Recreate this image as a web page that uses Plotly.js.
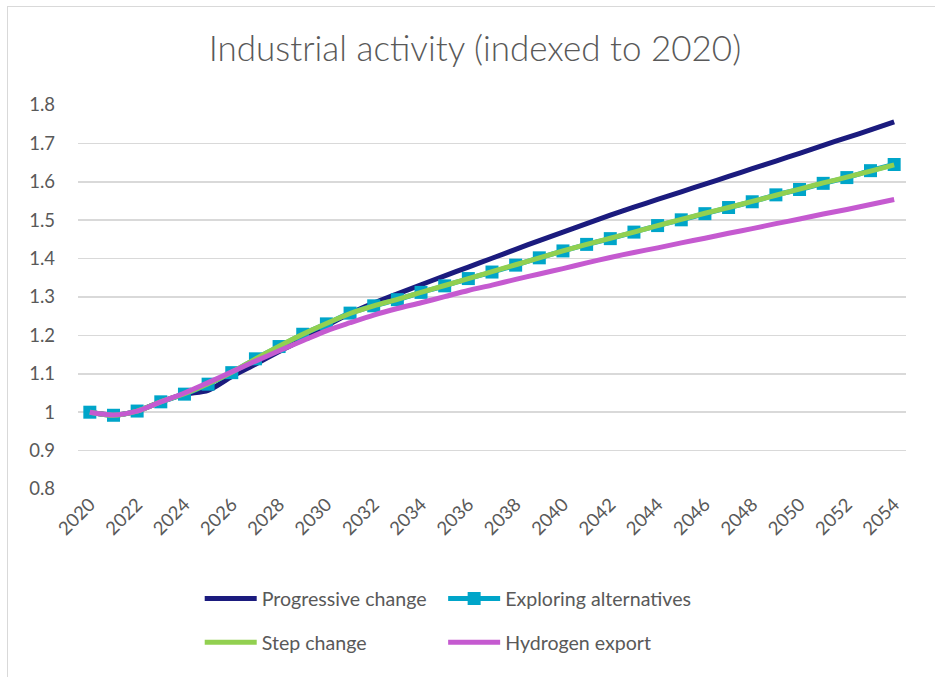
<!DOCTYPE html>
<html>
<head>
<meta charset="utf-8">
<script src="https://cdn.plot.ly/plotly-3.0.1.min.js"></script>
<style>
  html, body { margin: 0; padding: 0; background: #ffffff; }
  #wrap { position: relative; width: 935px; height: 677px; }
  #chart { position: absolute; left: 0; top: 0; width: 935px; height: 677px; }
  #frame { position: absolute; left: 7px; top: 6px; right: 0; bottom: 0;
           border-left: 1px solid #d9d9d9; border-top: 1px solid #d9d9d9; pointer-events: none; }
</style>
</head>
<body>
<div id="wrap">
  <div id="chart"></div>
  <div id="frame"></div>
</div>
<script>
// Years 2020-2054
const years = [];
for (let y = 2020; y <= 2054; y++) years.push(y);

// Industrial activity index (2020 = 1) by scenario
const progressiveChange = [
  1.000, 0.993, 1.003, 1.027, 1.047, 1.057, 1.093, 1.125, 1.158, 1.190,
  1.225, 1.257, 1.284, 1.308, 1.332, 1.355, 1.378, 1.401, 1.424, 1.447,
  1.469, 1.491, 1.513, 1.534, 1.554, 1.574, 1.594, 1.614, 1.634, 1.654,
  1.674, 1.695, 1.715, 1.735, 1.756
];
const exploringAlternatives = [
  1.000, 0.992, 1.003, 1.027, 1.047, 1.073, 1.103, 1.139, 1.171, 1.203,
  1.230, 1.258, 1.277, 1.293, 1.312, 1.329, 1.348, 1.365, 1.383, 1.402,
  1.420, 1.437, 1.452, 1.469, 1.486, 1.501, 1.517, 1.533, 1.548, 1.566,
  1.580, 1.596, 1.611, 1.629, 1.645
];
const stepChange = [
  1.000, 0.992, 1.003, 1.027, 1.048, 1.074, 1.104, 1.139, 1.172, 1.203,
  1.231, 1.257, 1.277, 1.294, 1.312, 1.330, 1.348, 1.366, 1.384, 1.402,
  1.420, 1.437, 1.453, 1.469, 1.486, 1.502, 1.518, 1.533, 1.549, 1.565,
  1.581, 1.597, 1.612, 1.628, 1.644
];
const hydrogenExport = [
  1.000, 0.993, 1.003, 1.027, 1.050, 1.077, 1.105, 1.133, 1.160, 1.186,
  1.212, 1.233, 1.253, 1.270, 1.285, 1.301, 1.317, 1.331, 1.346, 1.360,
  1.374, 1.389, 1.403, 1.416, 1.428, 1.441, 1.453, 1.466, 1.478, 1.491,
  1.503, 1.516, 1.528, 1.541, 1.554
];

const seriesNames = ['Progressive change', 'Exploring alternatives', 'Step change', 'Hydrogen export'];
const seriesColors = ['#1b1b7e', '#00a5c9', '#92d050', '#c55ad0'];

const FONT = 'Lato, "Open Sans", sans-serif';
const GREY = '#595959';

function lineTrace(name, values, color, legendId, extra) {
  return Object.assign({
    type: 'scatter',
    mode: 'lines',
    name: name,
    x: years,
    y: values,
    legend: legendId,
    line: { color: color, width: 5, shape: 'spline', smoothing: 0.8 },
    hoverinfo: 'x+y+name'
  }, extra || {});
}

// each series gets its own legend box so the 2x2 grid sits at fixed places
const traces = [
  lineTrace(seriesNames[0], progressiveChange, seriesColors[0], 'legend'),
  lineTrace(seriesNames[1], exploringAlternatives, seriesColors[1], 'legend2', {
    mode: 'lines+markers',
    marker: { symbol: 'square', size: 13, color: seriesColors[1] }
  }),
  lineTrace(seriesNames[2], stepChange, seriesColors[2], 'legend3'),
  lineTrace(seriesNames[3], hydrogenExport, seriesColors[3], 'legend4')
];

const legendCommon = {
  orientation: 'h',
  xref: 'paper', yref: 'paper',
  xanchor: 'left', yanchor: 'middle',
  itemwidth: 52,
  bgcolor: 'rgba(0,0,0,0)',
  font: { family: FONT, size: 19.6, color: GREY },
  traceorder: 'normal'
};
const colLeft = 0.147, colRight = 0.441, rowTop = -0.286, rowBottom = -0.4;

const layout = {
  width: 935,
  height: 677,
  paper_bgcolor: '#ffffff',
  plot_bgcolor: '#ffffff',
  margin: { l: 78, r: 29, t: 105, b: 188 },
  title: {
    text: 'Industrial activity (indexed to 2020)',
    font: { family: FONT, size: 35, color: GREY, weight: 300 },
    x: 0.508, xanchor: 'center',
    y: 0.928, yanchor: 'middle'
  },
  xaxis: {
    type: 'linear',
    range: [2019.5, 2054.5],
    tick0: 2020,
    dtick: 2,
    tickangle: -45,
    showgrid: false,
    zeroline: false,
    showline: false,
    ticks: '',
    tickfont: { family: FONT, size: 18.5, color: GREY },
    fixedrange: true
  },
  yaxis: {
    range: [0.8, 1.8],
    tick0: 0.8,
    dtick: 0.1,
    showgrid: true,
    gridcolor: '#d9d9d9',
    gridwidth: 1.5,
    zeroline: false,
    showline: false,
    ticks: '',
    ticklabelstandoff: 22,
    tickfont: { family: FONT, size: 18.5, color: GREY },
    fixedrange: true
  },
  legend: Object.assign({}, legendCommon, { x: colLeft, y: rowTop }),
  legend2: Object.assign({}, legendCommon, { x: colRight, y: rowTop }),
  legend3: Object.assign({}, legendCommon, { x: colLeft, y: rowBottom }),
  legend4: Object.assign({}, legendCommon, { x: colRight, y: rowBottom }),
  showlegend: true
};

Plotly.newPlot('chart', traces, layout, { displayModeBar: false, staticPlot: true });
</script>
</body>
</html>
